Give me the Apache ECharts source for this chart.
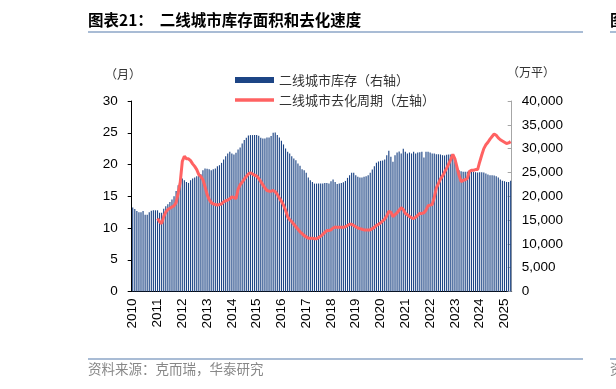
<!DOCTYPE html>
<html><head><meta charset="utf-8">
<script src="https://cdn.jsdelivr.net/npm/echarts@6/dist/echarts.min.js"></script>
<style>html,body{margin:0;padding:0;background:#fff}#c{width:616px;height:389px}</style>
</head><body><div id="c"></div>
<script>
// ---- data ----
const years = ['2010','2011','2012','2013','2014','2015','2016','2017','2018','2019','2020','2021','2022','2023','2024','2025'];
const lastYearMonths = 4; // data ends Apr 2025
const inventoryName = '二线城市库存（右轴）';
const cycleName = '二线城市去化周期（左轴）';
// 二线城市库存 (万平), monthly from Jan 2010
const inventory = [
  17620,17330,16910,16630,16630,16910,16140,16140,16630,16980,17050,17050,
  17050,16560,16560,17400,17900,18320,18800,19300,20000,21120,22310,23510,
  23720,23370,23010,22800,23370,23720,23930,24210,24420,24630,25470,25830,
  25750,25690,25470,25690,25830,26310,26520,27010,27720,28420,28980,29330,
  28980,28770,29120,29820,30250,31090,31790,32280,32770,32840,32840,32840,
  32840,32700,32280,32140,32140,32350,32350,32630,33330,33400,32840,32350,
  31650,30880,30030,29330,28980,28420,27930,27580,26870,26380,25690,25470,
  24910,23930,23370,23010,22660,22660,22660,22660,22660,22800,22800,22660,
  23160,23500,23010,22590,22660,22800,22940,23220,23860,24420,24910,24910,
  24420,24070,23930,23930,24070,24210,24420,24910,25610,26310,27010,27300,
  27440,27510,27720,28630,29540,28280,27230,28630,29190,29400,28980,29960,
  29330,28980,29190,28980,29330,28980,29190,29260,29330,28140,29330,29330,
  29190,28980,28980,28840,28840,28770,28630,28560,28700,28770,28770,28700,
  27230,25970,25470,25260,25120,25120,25120,25120,25120,25120,25050,24980,
  25050,25050,24980,24770,24560,24420,24420,24350,24210,23930,23510,23230,
  23160,23010,23010,23230
];
// 二线城市去化周期 (月), monthly, starts Jan 2011
const cycle = [
  null,null,null,null,null,null,null,null,null,null,null,null,
  11.5,11.0,10.7,11.8,12.5,12.9,13.1,13.3,13.5,14.0,15.5,17.2,
  20.5,21.3,20.9,20.9,20.6,20.1,19.7,19.2,18.4,18.1,17.6,16.5,
  15.3,14.5,14.0,13.8,13.7,13.6,13.7,13.8,14.1,14.3,14.4,14.6,
  14.9,14.8,14.6,16.1,16.8,17.2,17.7,18.1,18.5,18.7,18.5,18.3,
  18.2,17.8,17.3,16.8,16.3,15.9,15.8,15.8,15.9,15.7,15.3,14.7,
  14.2,13.6,12.8,11.8,11.3,11.0,10.6,10.2,9.8,9.4,9.1,8.8,
  8.6,8.4,8.4,8.4,8.3,8.3,8.5,8.7,9.0,9.3,9.6,9.6,
  9.7,10.0,10.15,10.1,10.1,10.1,10.1,10.2,10.4,10.6,10.6,10.4,
  10.2,10.0,9.9,9.8,9.7,9.7,9.7,9.7,9.9,10.1,10.4,10.6,
  10.8,11.1,11.4,11.9,12.6,12.5,11.8,12.1,12.4,12.8,13.2,12.9,
  12.3,12.1,11.8,11.6,11.5,11.7,12.0,12.3,12.3,12.4,12.8,13.5,
  13.6,13.7,14.8,16.3,17.0,17.7,18.2,18.8,19.4,20.1,20.8,21.6,
  20.9,19.6,18.3,17.3,17.5,17.6,17.8,18.9,19.1,19.1,19.2,19.2,
  20.4,21.5,22.5,23.1,23.5,24.0,24.4,24.8,24.6,24.2,23.9,23.7,
  23.5,23.3,23.4,23.6
];
const leftAxis = {min: 0, max: 30, interval: 5};
const rightAxis = {min: 0, max: 40000, interval: 5000};

// month categories
const months = [];
years.forEach((y, yi) => {
  const n = yi === years.length - 1 ? lastYearMonths : 12;
  for (let m = 1; m <= n; m++) months.push(y + '-' + (m < 10 ? '0' + m : m));
});

const chart = echarts.init(document.getElementById('c'), null, {renderer: 'canvas'});
const numFont = '"Liberation Sans", Arial, sans-serif';
const cjkFont = '"Noto Sans CJK SC", sans-serif';
const isJan = (i) => i % 12 === 0;

chart.setOption({
  animation: false,
  backgroundColor: '#fff',
  grid: {left: 131.7, top: 101, width: 380, height: 190.5, containLabel: false},
  legend: {
    orient: 'vertical', left: 235, top: 73, padding: 0,
    itemWidth: 39, itemHeight: 6, itemGap: 6,
    textStyle: {fontFamily: cjkFont, fontSize: 13, color: '#333', lineHeight: 14},
    data: [
      {name: inventoryName, icon: 'rect'},
      {name: cycleName, icon: 'path://M0,0L80,0L80,7L0,7Z'}
    ]
  },
  xAxis: {
    type: 'category', data: months, boundaryGap: true,
    axisLine: {lineStyle: {color: '#000', width: 1}},
    axisTick: {interval: (i) => isJan(i), length: 4, lineStyle: {color: '#000'}},
    axisLabel: {
      interval: (i) => isJan(i), rotate: 90, margin: 7,
      formatter: (v) => v.slice(0, 4),
      fontFamily: numFont, fontSize: 13.5, color: '#000'
    },
    splitLine: {show: false}
  },
  yAxis: [
    {
      type: 'value', position: 'left', min: leftAxis.min, max: leftAxis.max, interval: leftAxis.interval,
      axisLine: {show: true, lineStyle: {color: '#000'}},
      axisTick: {show: true, length: 4, lineStyle: {color: '#000'}},
      axisLabel: {fontFamily: numFont, fontSize: 13.5, color: '#000', margin: 14},
      splitLine: {show: false}
    },
    {
      type: 'value', position: 'right', min: rightAxis.min, max: rightAxis.max, interval: rightAxis.interval,
      axisLine: {show: true, lineStyle: {color: '#A6A6A6'}},
      axisTick: {show: true, inside: true, length: 4, lineStyle: {color: '#A6A6A6'}},
      axisLabel: {fontFamily: numFont, fontSize: 13.5, color: '#000', margin: 10,
        formatter: (v) => v.toLocaleString('en-US')},
      splitLine: {show: false}
    }
  ],
  series: [
    {
      name: inventoryName, type: 'bar', yAxisIndex: 1, data: inventory,
      barWidth: '55%', itemStyle: {color: '#1D4585'}
    },
    {
      name: cycleName, type: 'line', yAxisIndex: 0, data: cycle,
      symbol: 'none', showSymbol: false, connectNulls: false,
      lineStyle: {color: '#FF6262', width: 3}, itemStyle: {color: '#FF6262'}
    }
  ],
  graphic: [
    {type: 'text', left: 88, top: 12, style: {text: '图表21：  二线城市库存面积和去化速度', font: 'bold 15.5px ' + cjkFont, fill: '#000'}},
    {type: 'line', shape: {x1: 88, y1: 32, x2: 583, y2: 32}, style: {stroke: '#A9BCD5', lineWidth: 2}},
    {type: 'text', left: 610, top: 12, style: {text: '图', font: 'bold 15.5px ' + cjkFont, fill: '#000'}},
    {type: 'line', shape: {x1: 610, y1: 32, x2: 616, y2: 32}, style: {stroke: '#A9BCD5', lineWidth: 2}},
    {type: 'text', left: 105, top: 68, style: {text: '（月）', font: '12px ' + cjkFont, fill: '#333'}},
    {type: 'text', left: 507, top: 66, style: {text: '（万平）', font: '12px ' + cjkFont, fill: '#333'}},
    {type: 'line', shape: {x1: 88, y1: 359, x2: 583, y2: 359}, style: {stroke: '#A9BCD5', lineWidth: 2}},
    {type: 'text', left: 88, top: 362, style: {text: '资料来源：克而瑞，华泰研究', font: '13.5px ' + cjkFont, fill: '#888'}},
    {type: 'line', shape: {x1: 610, y1: 359, x2: 616, y2: 359}, style: {stroke: '#A9BCD5', lineWidth: 2}},
    {type: 'text', left: 610, top: 362, style: {text: '资', font: '13.5px ' + cjkFont, fill: '#888'}}
  ]
});
</script></body></html>
